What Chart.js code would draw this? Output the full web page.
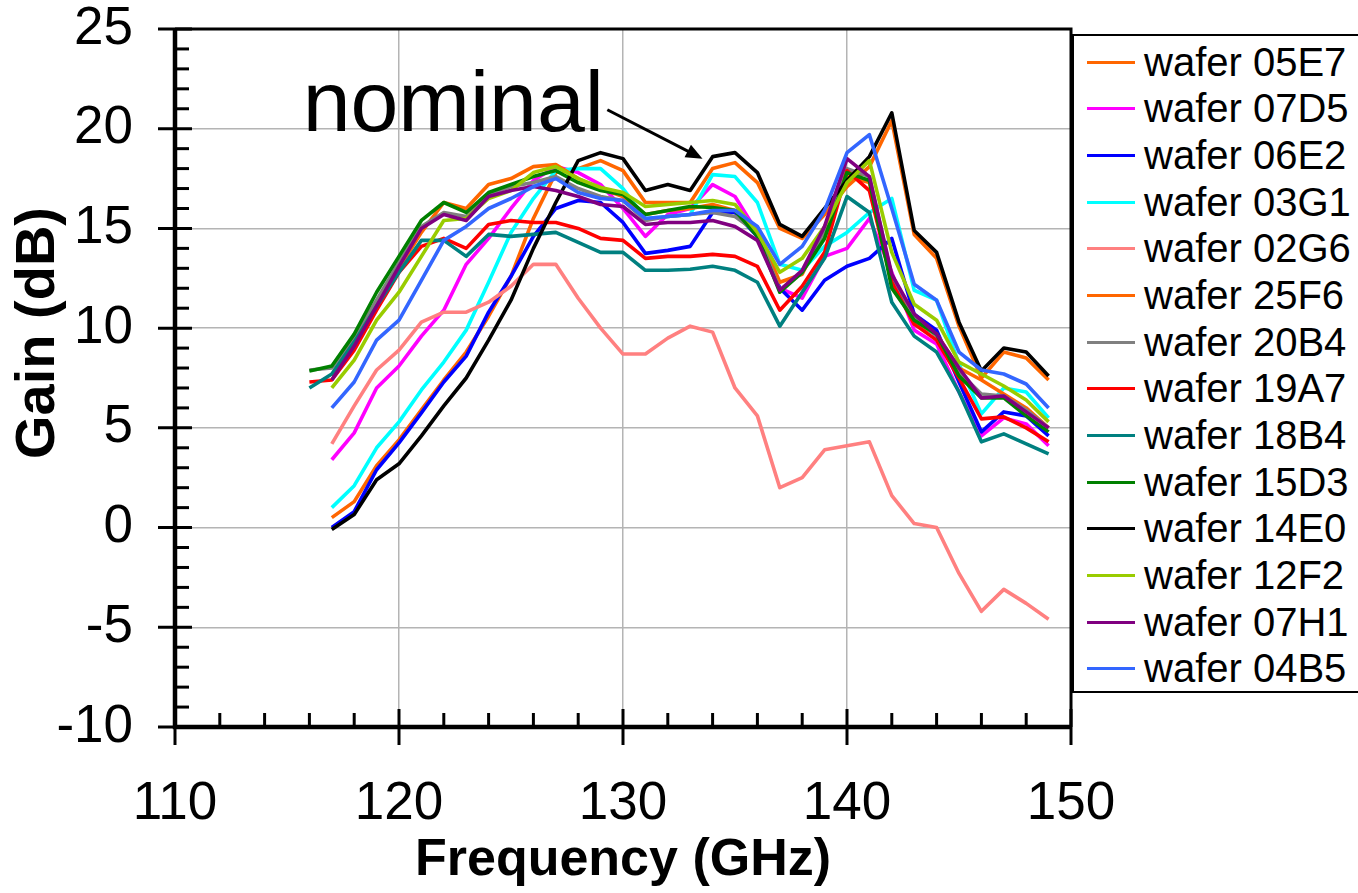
<!DOCTYPE html>
<html>
<head>
<meta charset="utf-8">
<title>Gain vs frequency</title>
<script src="https://cdn.jsdelivr.net/npm/chart.js@4.4.1/dist/chart.umd.min.js"></script>
<style>
  html, body { margin: 0; padding: 0; background: #fff; overflow: hidden; }
  #wrap { position: relative; width: 1358px; height: 893px; }
  #legend {
    position: absolute; left: 1072px; top: 34px; width: 330px; height: 659px;
    border: 2px solid #000; box-sizing: border-box; background: #fff;
    font-family: 'Liberation Sans', Arial, sans-serif; font-size: 40px; color: #000;
  }
  .row { position: absolute; left: 0; height: 46px; display: flex; align-items: center; white-space: nowrap; }
  .swatch { width: 48px; height: 0; border-top: 3.5px solid; margin-left: 13px; margin-right: 9px; }
</style>
</head>
<body>
<div id="wrap">
  <canvas id="gainChart" width="1358" height="893"></canvas>
  <div id="legend"></div>
</div>
<script>
/* measured gain per wafer, one value per GHz from 116 to 149 */
const freq = [116,117,118,119,120,121,122,123,124,125,126,127,128,129,130,131,132,
              133,134,135,136,137,138,139,140,141,142,143,144,145,146,147,148,149];

const w05E7 = [null,0.5,1.3,3.1,4.4,5.9,7.4,8.8,10.6,12.6,15.5,17.8,18.0,18.4,17.9,16.3,16.3,
               16.3,18.0,18.3,17.3,15.0,14.5,15.7,17.1,18.1,20.4,14.7,13.5,10.1,7.5,8.8,8.5,7.4];
const w07D5 = [null,3.4,4.75,7.0,8.1,9.6,10.9,13.2,14.5,16.0,17.4,18.1,17.8,17.2,16.0,14.6,15.7,
               16.0,17.2,16.6,14.8,12.0,11.5,13.6,14.0,15.5,12.8,9.9,9.2,6.8,4.6,5.5,5.2,4.1];
const w06E2 = [null,0.0,0.8,2.9,4.25,5.75,7.3,8.6,10.8,12.6,14.6,16.0,16.4,16.3,15.3,13.75,13.9,
               14.1,15.8,15.8,14.6,12.0,10.9,12.4,13.1,13.5,14.5,10.7,9.9,7.3,4.8,5.8,5.6,4.6];
const w03G1 = [null,1.0,2.1,4.0,5.3,6.9,8.3,9.9,12.3,14.8,16.5,17.9,18.0,18.0,17.0,15.5,15.6,
               15.7,17.7,17.6,16.3,13.2,12.9,14.1,14.8,15.8,16.5,11.9,11.4,8.2,5.7,7.0,6.8,5.5];
const w02G6 = [null,4.2,6.1,7.9,8.9,10.3,10.8,10.8,11.3,12.1,13.2,13.2,11.5,10.0,8.7,8.7,9.5,
               10.1,9.8,7.0,5.6,2.0,2.5,3.9,4.1,4.3,1.6,0.2,0.0,-2.3,-4.2,-3.1,-3.8,-4.6];
const w25F6 = [null,7.6,9.3,11.2,13.0,14.8,16.3,16.0,17.2,17.5,18.1,18.2,17.5,17.0,16.6,15.7,15.9,
               16.0,16.2,15.9,15.0,12.3,12.7,15.0,17.6,17.3,12.5,10.2,9.7,8.0,7.4,6.7,6.0,5.0];
const w20B4 = [7.9,8.0,9.5,11.4,13.3,15.1,15.8,15.6,16.7,17.1,17.3,17.6,17.0,16.6,16.4,15.4,15.6,
               15.7,15.8,15.6,14.8,11.9,12.8,14.8,18.0,17.6,12.6,10.5,9.6,7.8,6.7,6.6,5.9,5.0];
const w19A7 = [7.3,7.4,8.9,10.9,12.8,14.1,14.5,14.0,15.2,15.4,15.3,15.3,15.0,14.5,14.4,13.5,13.6,
               13.6,13.7,13.6,13.1,10.9,12.1,13.8,17.9,16.9,12.3,10.2,9.4,7.5,5.45,5.55,5.0,4.3];
const w18B4 = [7.0,7.7,9.3,11.1,12.8,14.4,14.4,13.6,14.7,14.6,14.7,14.8,14.3,13.8,13.8,12.9,12.9,
               12.95,13.1,12.9,12.3,10.1,11.8,13.5,16.6,15.8,11.3,9.6,8.8,6.8,4.3,4.7,4.2,3.7];
const w15D3 = [7.85,8.1,9.7,11.8,13.6,15.4,16.3,15.8,16.8,17.2,17.6,17.9,17.3,16.9,16.7,15.7,15.9,
               16.1,16.05,15.9,14.6,11.8,12.8,14.5,17.8,17.4,12.0,10.4,9.7,7.6,6.5,6.5,5.6,4.8];
const w14E0 = [null,-0.1,0.65,2.4,3.2,4.6,6.1,7.5,9.4,11.4,14.0,16.3,18.4,18.8,18.5,16.9,17.2,
               16.9,18.6,18.8,17.8,15.2,14.6,16.0,17.4,18.6,20.8,14.9,13.8,10.3,7.85,9.0,8.8,7.6];
const w12F2 = [null,7.0,8.4,10.4,11.8,13.6,15.4,15.5,16.5,16.9,17.8,18.1,17.5,17.05,16.8,16.1,16.2,
               16.3,16.4,16.2,14.8,12.8,13.5,15.1,17.3,18.4,13.8,11.2,10.4,8.3,7.7,7.1,6.4,5.3];
const w07H1 = [null,7.4,9.1,11.1,13.1,15.0,15.7,15.4,16.6,16.9,17.1,16.9,16.6,16.2,16.1,15.2,15.3,
               15.3,15.4,15.1,14.4,11.9,12.9,15.1,18.5,17.6,12.7,10.7,9.7,8.0,6.5,6.6,5.8,5.0];
const w04B5 = [null,6.0,7.3,9.4,10.4,12.4,14.4,15.1,16.0,16.5,17.1,17.5,16.8,16.5,16.4,15.5,15.6,
               15.7,15.9,15.9,15.1,13.2,14.1,15.9,18.8,19.7,16.0,12.2,11.4,8.8,7.9,7.7,7.2,6.0];

const waferNames = ['wafer 05E7','wafer 07D5','wafer 06E2','wafer 03G1','wafer 02G6','wafer 25F6','wafer 20B4',
                    'wafer 19A7','wafer 18B4','wafer 15D3','wafer 14E0','wafer 12F2','wafer 07H1','wafer 04B5'];
const waferGains = [w05E7,w07D5,w06E2,w03G1,w02G6,w25F6,w20B4,w19A7,w18B4,w15D3,w14E0,w12F2,w07H1,w04B5];
const waferColors = ['#ff6600','#ff00ff','#0000ff','#00ffff','#ff8080','#ff6600','#808080',
                     '#ff0000','#008080','#008000','#000000','#99cc00','#800080','#3366ff'];

const xTicks = [110,120,130,140,150];
const yTicks = [-10,-5,0,5,10,15,20,25];

// "nominal" callout, in data units
const noteText = 'nominal';
const notePos = {x: 115.7, y: 19.9};
const arrowFrom = {x: 129.3, y: 20.95};
const arrowTo = {x: 133.55, y: 18.5};

const FONT = "'Liberation Sans', Arial, sans-serif";

// excel style axes: thick lines, major ticks cross, minor ticks inside
const axisDecor = {
  id: 'axisDecor',
  afterDraw(chart) {
    const {ctx, chartArea: a, scales: {x, y}} = chart;
    ctx.save();
    ctx.strokeStyle = '#000';
    ctx.lineWidth = 3;
    ctx.beginPath();
    ctx.moveTo(a.left, a.top); ctx.lineTo(a.right, a.top); ctx.lineTo(a.right, a.bottom);
    ctx.stroke();

    ctx.lineWidth = 4.5;
    ctx.beginPath();
    ctx.moveTo(a.left, a.top); ctx.lineTo(a.left, a.bottom);
    ctx.lineTo(a.right, a.bottom);
    ctx.stroke();

    ctx.lineWidth = 3;
    for (let v = yTicks[0]; v <= yTicks[yTicks.length - 1]; v++) {
      const py = y.getPixelForValue(v);
      const major = v % 5 === 0;
      ctx.beginPath();
      ctx.moveTo(major ? a.left - 17 : a.left, py);
      ctx.lineTo(a.left + (major ? 17 : 14), py);
      ctx.stroke();
    }
    for (let f = xTicks[0]; f <= xTicks[xTicks.length - 1]; f += 2) {
      const px = x.getPixelForValue(f);
      const major = f % 10 === 0;
      ctx.beginPath();
      ctx.moveTo(px, a.bottom + (major ? 18 : 0));
      ctx.lineTo(px, a.bottom - (major ? 18 : 14));
      ctx.stroke();
    }

    // y axis title
    ctx.fillStyle = '#000';
    ctx.font = 'bold 56px ' + FONT;
    ctx.textAlign = 'center';
    ctx.textBaseline = 'middle';
    ctx.save();
    ctx.translate(39, 333);
    ctx.rotate(-Math.PI / 2);
    ctx.fillText('Gain (dB)', 0, 0);
    ctx.restore();

    // nominal callout
    ctx.font = '86px ' + FONT;
    ctx.textAlign = 'left';
    ctx.textBaseline = 'alphabetic';
    ctx.fillText(noteText, x.getPixelForValue(notePos.x), y.getPixelForValue(notePos.y));
    const x0 = x.getPixelForValue(arrowFrom.x), y0 = y.getPixelForValue(arrowFrom.y);
    const x1 = x.getPixelForValue(arrowTo.x), y1 = y.getPixelForValue(arrowTo.y);
    const ang = Math.atan2(y1 - y0, x1 - x0);
    const head = 18;
    ctx.lineWidth = 3;
    ctx.beginPath();
    ctx.moveTo(x0, y0);
    ctx.lineTo(x1 - Math.cos(ang) * head * 0.8, y1 - Math.sin(ang) * head * 0.8);
    ctx.stroke();
    ctx.beginPath();
    ctx.moveTo(x1, y1);
    ctx.lineTo(x1 - head * Math.cos(ang - 0.4), y1 - head * Math.sin(ang - 0.4));
    ctx.lineTo(x1 - head * Math.cos(ang + 0.4), y1 - head * Math.sin(ang + 0.4));
    ctx.closePath();
    ctx.fill();
    ctx.restore();
  }
};

const datasets = waferNames.map((name, i) => ({
  label: name,
  data: freq.map((f, k) => ({x: f, y: waferGains[i][k]})),
  borderColor: waferColors[i],
  backgroundColor: waferColors[i],
  borderWidth: 3.6,
  borderJoinStyle: 'round',
  pointRadius: 0,
  tension: 0,
  order: waferNames.length - i   // later wafers on top, like excel
}));

let ctx = document.getElementById('gainChart').getContext('2d');
let gainChart = new Chart(ctx, {
  type: 'line',
  data: { datasets: datasets },
  options: {
    responsive: false,
    animation: false,
    layout: { padding: { top: 29, right: 287, bottom: 0, left: 0 } },
    plugins: { legend: { display: false }, tooltip: { enabled: false } },
    scales: {
      x: {
        type: 'linear', min: 110, max: 150,
        afterFit: s => { s.height = 166; },
        afterBuildTicks: s => { s.ticks = xTicks.map(v => ({value: v})); },
        grid: { color: '#b4b4b4', lineWidth: 1.5, drawTicks: false },
        border: { display: false },
        ticks: { color: '#000', padding: 51, font: { family: FONT, size: 53, lineHeight: 1 } },
        title: { display: true, text: 'Frequency (GHz)', color: '#000',
                 padding: { top: 0, bottom: 6 }, font: { family: FONT, size: 52, weight: 'bold', lineHeight: 1 } }
      },
      y: {
        min: -10, max: 25,
        // keep the tick padding from pushing the plot down
        afterFit: s => { s.width = 175; s.paddingTop = 20; s.paddingBottom = 20; },
        afterBuildTicks: s => { s.ticks = yTicks.map(v => ({value: v})); },
        grid: { color: '#b4b4b4', lineWidth: 1.5, drawTicks: false },
        border: { display: false },
        ticks: { color: '#000', padding: 42, font: { family: FONT, size: 53, lineHeight: 1 } }
      }
    }
  },
  plugins: [axisDecor]
});

// legend box on the right, same order as the series
const legendBox = document.getElementById('legend');
waferNames.forEach((name, i) => {
  const row = document.createElement('div');
  row.className = 'row';
  row.style.top = (3 + i * 46.67) + 'px';
  row.innerHTML = '<span class="swatch" style="border-color:' + waferColors[i] + '"></span>' + name;
  legendBox.appendChild(row);
});
</script>
</body>
</html>
